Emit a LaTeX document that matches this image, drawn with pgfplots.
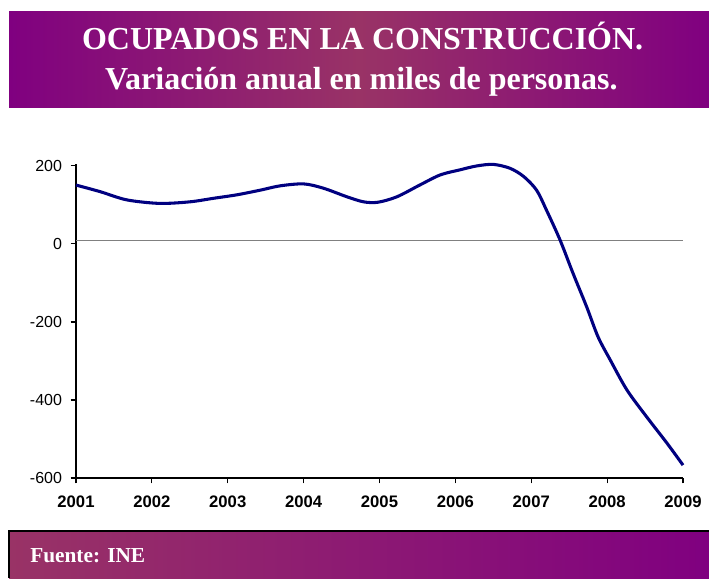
\documentclass[border=0pt]{standalone}
\usepackage{pgfplots}
\pgfplotsset{compat=1.18}
\usepackage{fontspec}
\setmainfont{Liberation Serif}
\newfontfamily\arial{Liberation Sans}
\definecolor{bpurple}{RGB}{128,0,128}
\definecolor{bmid}{RGB}{153,51,102}
\definecolor{navyline}{RGB}{0,0,128}
\begin{document}
\begin{tikzpicture}
\useasboundingbox (0,0) rectangle (531.75pt,433.5pt);
\fill[white] (0,0) rectangle (531.75pt,433.5pt);
% title banner
\shade[left color=bpurple, right color=bpurple, middle color=bmid] (6.75pt,352.5pt) rectangle (531.75pt,424.5pt);
\node[anchor=base, text=white, font=\bfseries\fontsize{24}{28}\selectfont, inner sep=0pt] at (272pt,396pt) {OCUPADOS EN LA CONSTRUCCIÓN.};
\node[anchor=base, text=white, font=\bfseries\fontsize{24}{28}\selectfont, inner sep=0pt] at (271pt,366pt) {Variación anual en miles de personas.};
% bottom banner
\shade[left color=bmid, right color=bpurple] (6.75pt,0pt) rectangle (531.75pt,35.25pt);
\draw[black, line width=1.1pt] (6.75pt,0pt) -- (6.75pt,35.25pt) -- (531.75pt,35.25pt);
\node[anchor=base west, text=white, font=\bfseries\fontsize{16}{19}\selectfont, inner sep=0pt] at (22.5pt,12pt) {Fuente: INE};
\begin{axis}[
  at={(57pt,75pt)}, anchor=south west,
  scale only axis, width=455.25pt, height=235.5pt,
  xmin=2001, xmax=2009, ymin=-600, ymax=205,
  axis x line*=bottom, axis y line*=left,
  axis line style={-, black, line width=0.8pt},
  tick align=outside, major tick length=4pt,
  tick style={black, line width=0.8pt},
  xtick={2001,2002,2003,2004,2005,2006,2007,2008,2009},
  xticklabels={2001,2002,2003,2004,2005,2006,2007,2008,2009},
  ytick={-600,-400,-200,0,200},
  yticklabels={-600,-400,-200,0,200},
  xticklabel style={font=\arial\bfseries\fontsize{12.5}{14}\selectfont, yshift=-6pt},
  yticklabel style={font=\arial\fontsize{12}{14}\selectfont, xshift=-3pt},
  clip=false,
]
\addplot[gray, line width=0.9pt] coordinates {(2001,8) (2009,8)};
\addplot[navyline, line width=2.3pt, smooth, tension=0.5] coordinates {
(2001.0,151) (2001.32,134) (2001.67,113) (2002.1,104) (2002.5,108) (2002.81,117)
(2003.12,126) (2003.43,138) (2003.69,149) (2004.0,154) (2004.26,143) (2004.57,121)
(2004.79,108) (2004.98,107) (2005.23,121) (2005.53,151) (2005.8,177) (2006.06,190)
(2006.28,200) (2006.5,204) (2006.72,194) (2006.9,173) (2007.07,138) (2007.2,87)
(2007.38,10) (2007.55,-75) (2007.73,-161) (2007.88,-238) (2008.04,-297) (2008.26,-374)
(2008.52,-443) (2008.79,-511) (2009.0,-567)
};
\end{axis}
\end{tikzpicture}
\end{document}
